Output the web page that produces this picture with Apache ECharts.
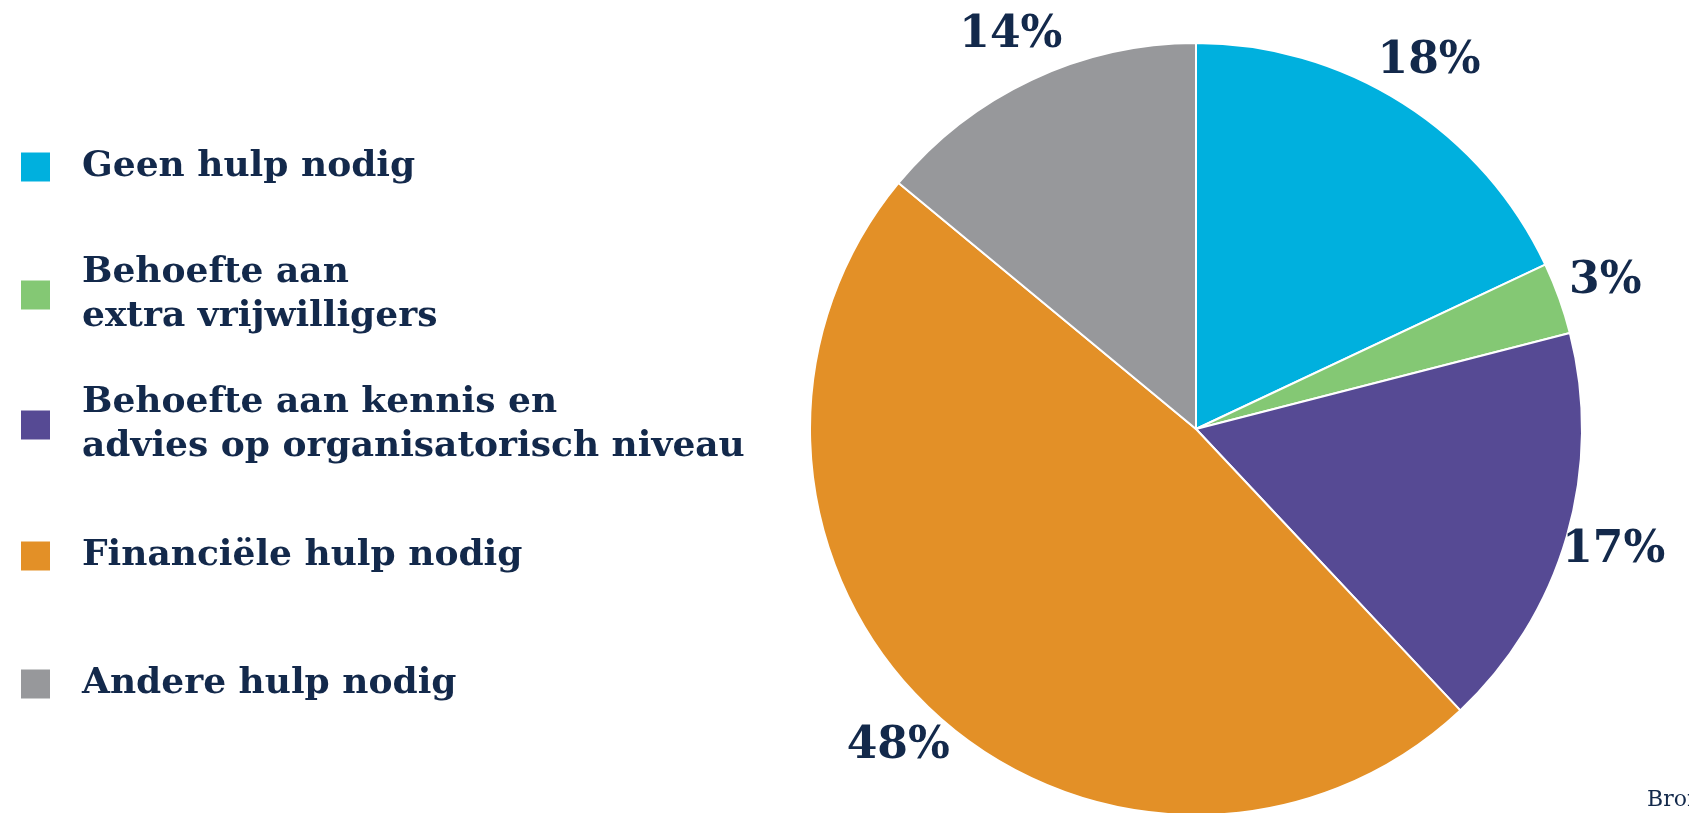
<!DOCTYPE html>
<html>
<head>
<meta charset="utf-8">
<script src="https://cdn.jsdelivr.net/npm/echarts@6/dist/echarts.min.js"></script>
<style>
html,body{margin:0;padding:0;background:#fff;}
#chart{width:1689px;height:813px;}
</style>
</head>
<body>
<div id="chart"></div>
<script>
var categories = [
  'Geen hulp nodig',
  'Behoefte aan\nextra vrijwilligers',
  'Behoefte aan kennis en\nadvies op organisatorisch niveau',
  'Financiële hulp nodig',
  'Andere hulp nodig'
];
var values = [18, 3, 17, 48, 14];
var colors = ['#00B0DE', '#84C874', '#564A94', '#E39027', '#97989B'];
var sourceText = 'Bron: ';

var textColor = '#13294B';
var serif = 'DejaVu Serif';
var legendCenters = [167, 295, 425, 556, 684];
var lineH = 44;

var pieData = categories.map(function (c, i) {
  return { name: c, value: values[i], itemStyle: { color: colors[i] } };
});
var ghostData = categories.map(function (c, i) {
  return { name: c, value: values[i] };
});

var legends = categories.map(function (c, i) {
  var lines = c.split('\n').length;
  var textH = lines * lineH + (lines - 1) * lineH;
  return {
    show: true,
    orient: 'vertical',
    left: 19,
    top: legendCenters[i] - textH / 2,
    padding: 0,
    itemWidth: 31,
    itemHeight: 31,
    icon: 'rect',
    selectedMode: false,
    data: [{ name: c, textStyle: { padding: [(lines - 1) * lineH, 0, 0, 26] } }],
    textStyle: {
      fontFamily: serif,
      fontWeight: 'bold',
      fontSize: 36,
      lineHeight: lineH,
      color: textColor
    }
  };
});

var chart = echarts.init(document.getElementById('chart'), null, { renderer: 'canvas' });
chart.setOption({
  animation: false,
  backgroundColor: '#fff',
  legend: legends,
  series: [
    {
      type: 'pie',
      center: [1196, 429],
      radius: [0, 386],
      startAngle: 90,
      clockwise: true,
      silent: true,
      label: { show: false },
      labelLine: { show: false },
      itemStyle: { borderColor: '#fff', borderWidth: 2 },
      data: pieData
    },
    {
      type: 'pie',
      center: [1196, 429],
      radius: [412, 452],
      startAngle: 90,
      clockwise: true,
      silent: true,
      itemStyle: { color: 'rgba(0,0,0,0)', borderWidth: 0 },
      label: {
        show: true,
        position: 'inside',
        formatter: '{c}%',
        fontFamily: serif,
        fontWeight: 'bold',
        fontSize: 44,
        color: textColor
      },
      labelLine: { show: false },
      data: ghostData
    }
  ],
  graphic: [
    {
      type: 'text',
      left: 1647,
      top: 789,
      style: {
        text: sourceText,
        font: '22px "DejaVu Serif"',
        fill: textColor
      }
    }
  ]
});
</script>
</body>
</html>
